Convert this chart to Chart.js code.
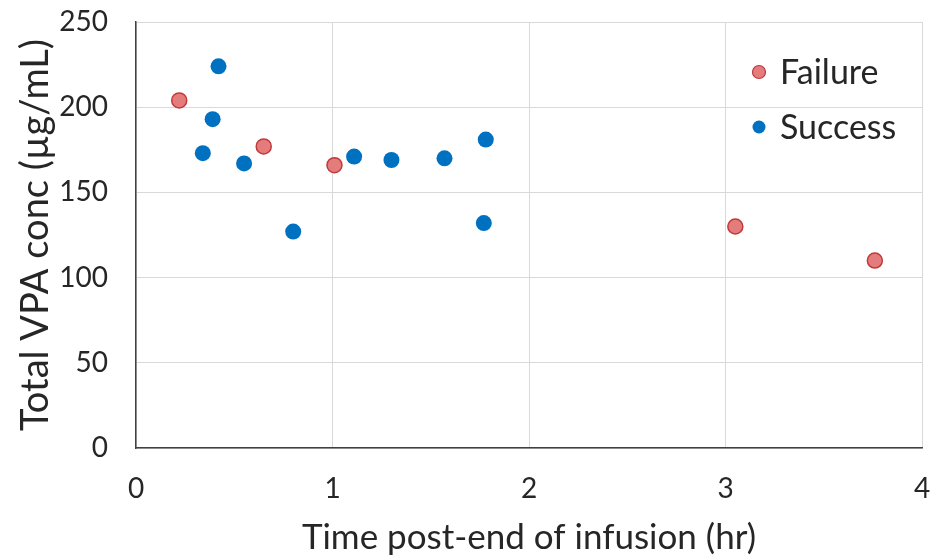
<!DOCTYPE html>
<html>
<head>
<meta charset="utf-8">
<script src="https://cdn.jsdelivr.net/npm/chart.js@4"></script>
<style>
  html, body { margin: 0; padding: 0; background: #ffffff; }
</style>
</head>
<body>
<canvas id="grafica" width="937" height="560"></canvas>
<script>
// Datos
const failureX = [0.22, 0.65, 1.01, 3.05, 3.76];
const failureY = [204, 177, 166, 130, 110];

const successX = [0.42, 0.39, 0.34, 0.55, 0.80, 1.11, 1.30, 1.57, 1.78, 1.77];
const successY = [224, 193, 173, 167, 127, 171, 169, 170, 181, 132];

const xTicks = [0, 1, 2, 3, 4];
const yTicks = [0, 50, 100, 150, 200, 250];

const FONT = "Lato";

function puntos(xs, ys) {
    return xs.map((x, i) => ({ x: x, y: ys[i] }));
}

// Leyenda dentro del área
const leyenda = {
    id: "leyenda",
    afterDraw(chart) {
        const ctx = chart.ctx;
        const filas = [
            { ds: chart.data.datasets[0], y: 72 },
            { ds: chart.data.datasets[1], y: 127 }
        ];
        ctx.save();
        filas.forEach(f => {
            ctx.beginPath();
            ctx.arc(759, f.y, 6.5, 0, Math.PI * 2);
            ctx.fillStyle = f.ds.backgroundColor;
            ctx.fill();
            if (f.ds.borderWidth) {
                ctx.lineWidth = 1.2;
                ctx.strokeStyle = f.ds.borderColor;
                ctx.stroke();
            }
            ctx.fillStyle = "#262626";
            ctx.font = "34px " + FONT;
            ctx.textBaseline = "middle";
            ctx.textAlign = "left";
            ctx.fillText(f.ds.label, 780, f.y + 1);
        });
        ctx.restore();
    }
};

new Chart(document.getElementById("grafica"), {
    type: "scatter",
    data: {
        datasets: [
            {
                label: "Failure",
                data: puntos(failureX, failureY),
                backgroundColor: "#E57C7C",
                borderColor: "#C0393B",
                borderWidth: 1.5,
                pointRadius: 7.5,
                pointHoverRadius: 7.5
            },
            {
                label: "Success",
                data: puntos(successX, successY),
                backgroundColor: "#0070C0",
                borderColor: "#0070C0",
                borderWidth: 0,
                pointRadius: 8,
                pointHoverRadius: 8
            }
        ]
    },
    options: {
        responsive: false,
        animation: false,
        devicePixelRatio: 1,
        layout: { padding: { top: 22, right: 15, left: 0, bottom: 0 } },
        plugins: {
            legend: { display: false },
            tooltip: { enabled: false }
        },
        scales: {
            x: {
                type: "linear",
                min: 0,
                max: 4,
                afterBuildTicks: s => { s.ticks = xTicks.map(v => ({ value: v })); },
                afterFit: s => { s.height = 112; },
                ticks: {
                    padding: 3,
                    color: "#262626",
                    font: { family: FONT, size: 28 }
                },
                grid: { color: "#D9D9D9", lineWidth: 1, drawTicks: true, tickLength: 21, tickColor: "rgba(0,0,0,0)" },
                border: { color: "#404040", width: 1.5 },
                title: {
                    display: true,
                    text: "Time post-end of infusion (hr)",
                    color: "#262626",
                    font: { family: FONT, size: 35 },
                    padding: { top: 0, bottom: 1 }
                }
            },
            y: {
                type: "linear",
                min: 0,
                max: 250,
                afterBuildTicks: s => { s.ticks = yTicks.map(v => ({ value: v })); },
                afterFit: s => { s.width = 136; },
                ticks: {
                    padding: 3,
                    color: "#262626",
                    font: { family: FONT, size: 28 }
                },
                grid: { color: "#D9D9D9", lineWidth: 1, drawTicks: true, tickLength: 25, tickColor: "rgba(0,0,0,0)" },
                border: { color: "#404040", width: 1.5 },
                title: {
                    display: true,
                    text: "Total VPA conc (µg/mL)",
                    color: "#262626",
                    font: { family: FONT, size: 38 },
                    padding: { top: 13, bottom: 0 }
                }
            }
        }
    },
    plugins: [leyenda]
});
</script>
</body>
</html>
